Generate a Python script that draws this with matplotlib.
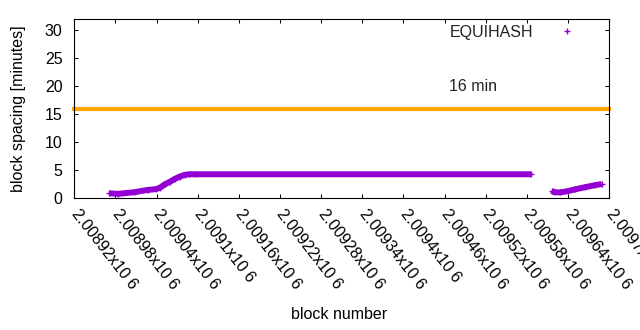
import matplotlib
matplotlib.use("Agg")
import matplotlib.pyplot as plt
from matplotlib.lines import Line2D

plt.rcParams['font.family'] = ['Liberation Sans', 'DejaVu Sans']

# ---- data ----
seg1_blocks = [2008971, 2008984, 2009008, 2009027, 2009039, 2009045, 2009052,
               2009060, 2009067, 2009074, 2009081, 2009088, 2009096, 2009586]
seg1_values = [0.9, 0.8, 1.1, 1.5, 1.65, 1.9, 2.5, 3.0, 3.5, 3.9, 4.2, 4.3, 4.3, 4.3]

seg2_blocks = [2009616, 2009620, 2009628, 2009640, 2009650, 2009665, 2009679, 2009689]
seg2_values = [1.35, 1.1, 1.05, 1.3, 1.6, 2.0, 2.35, 2.55]

target_minutes = 16
target_label = "16 min"
series_label = "EQUIHASH"

xtick_values = [2008920 + 60 * k for k in range(14)]
xtick_labels = [f"{v / 1e6:g}x10 6" for v in xtick_values]
ytick_values = [0, 5, 10, 15, 20, 25, 30]

x_min, x_max = 2008920, 2009700
y_min, y_max = 0, 32

purple = "#9400D3"
orange = "#FFA500"
fs = 11.5

fig = plt.figure(figsize=(6.4, 3.3), dpi=100)
ax = fig.add_axes([0.116, 0.399, 0.836, 0.5425])

ax.axhline(target_minutes, xmin=-0.004, xmax=1.004, color=orange, lw=3.0,
           clip_on=False, zorder=2, solid_capstyle='butt')

for bx, vy in ((seg1_blocks, seg1_values), (seg2_blocks, seg2_values)):
    ax.plot(bx, vy, color=purple, lw=4.3, solid_capstyle='butt', zorder=3)
    ax.plot(bx, vy, color=purple, ls='none', marker='+', ms=4.6, mew=1.0, zorder=3)

ax.text(2009501, 20.05, target_label, ha='center', va='center', fontsize=fs, color='#222222')

handle = Line2D([], [], color=purple, marker='+', ls='none', ms=5, mew=1.0)
ax.legend([handle], [series_label], loc='upper right', bbox_to_anchor=(0.951, 0.968),
          frameon=False, markerfirst=False, handletextpad=1.1, handlelength=2.0,
          borderaxespad=0, borderpad=0, fontsize=fs, labelcolor='#222222')

ax.set_xlim(x_min, x_max)
ax.set_ylim(y_min, y_max)
ax.set_yticks(ytick_values)
ax.set_xticks(xtick_values)
ax.set_xticklabels(xtick_labels, rotation=-52, ha='left', va='center',
                   rotation_mode='anchor', fontsize=fs)
ax.tick_params(axis='both', direction='in', length=3.0, width=0.75,
               top=True, right=True, labelsize=fs, colors='black')
ax.tick_params(axis='x', pad=9)
ax.tick_params(axis='y', pad=8.5)
for s in ax.spines.values():
    s.set_linewidth(0.8)

ax.set_xlabel("block number", fontsize=fs)
ax.set_ylabel("block spacing [minutes]", fontsize=fs)
ax.xaxis.set_label_coords(0.495, -0.607)
ax.xaxis.label.set_va('top')
ax.yaxis.set_label_coords(-0.090, 0.5)

fig.savefig("out.png", dpi=100)
